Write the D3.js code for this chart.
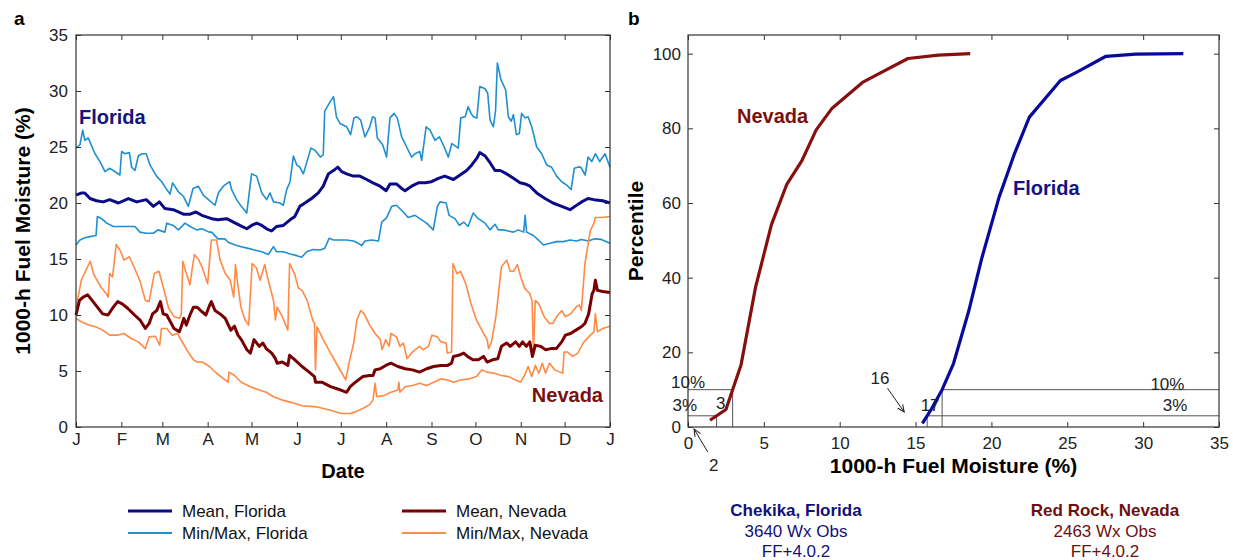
<!DOCTYPE html>
<html>
<head>
<meta charset="utf-8">
<script src="https://cdn.jsdelivr.net/npm/d3@7"></script>
<style>
  html, body { margin: 0; padding: 0; background: #fff; }
  svg { display: block; font-family: "Liberation Sans", Arial, sans-serif; }
</style>
</head>
<body>
<svg id="fig" width="1233" height="560"></svg>
<script>
// ---------- Panel a: daily 1000-h fuel moisture through the year ----------
const monthTicks = [0, 31, 59, 90, 120, 151, 181, 212, 243, 273, 304, 334, 365];
const monthLabels = ["J", "F", "M", "A", "M", "J", "J", "A", "S", "O", "N", "D", "J"];
const moistureTicks = [0, 5, 10, 15, 20, 25, 30, 35];

// [day of year, fuel moisture %]
const floridaMax = [[0,24.9],[2.7,25.2],[4.6,26.5],[6,25.6],[8.4,25.8],[10,25.3],[13,24.4],[16.4,23.7],[19.8,22.8],[22.8,23.1],[25.5,22.9],[30,22.5],[31.2,24.6],[33.5,24.4],[36.5,24.5],[38,23.2],[40.3,22.9],[42.6,24.2],[45,24.4],[48,24.4],[50.6,23.4],[55,22.4],[58.6,21.9],[62,21.2],[64.3,20.8],[66,21.8],[70,21.0],[73.4,20.6],[76.8,19.7],[80,21.3],[83.6,21.5],[87,20.7],[90.5,20.3],[95,19.8],[97.3,20.9],[100.7,21.5],[105,21.9],[106.4,21.2],[109.8,20.3],[113,19.7],[116.7,19.1],[120,22.6],[123.5,22.4],[127,20.9],[130.3,20.3],[132.6,20.9],[135,20.1],[139.4,20.0],[141.7,19.8],[144,21.2],[146.3,21.9],[148.6,24.2],[150.9,23.4],[153,23.2],[155.4,22.6],[160.6,24.9],[163.4,24.7],[167,24.1],[169,24.3],[170,28.2],[173.6,29.0],[176,29.5],[178,27.7],[180.4,27.1],[185,26.8],[187.7,26.1],[190,27.6],[192,27.7],[194.6,27.4],[197.5,25.9],[200.5,26.7],[202.8,27.7],[204.4,27.6],[206,25.8],[209.6,25.2],[212.3,24.1],[214.6,27.6],[217.4,28.0],[219.6,27.6],[222.6,25.9],[226,25.0],[229.4,24.1],[231.7,24.4],[235,24.6],[236.3,23.8],[239.3,26.8],[242,26.5],[245.4,25.6],[248.4,25.9],[251,25.2],[254.5,24.1],[256.8,25.3],[261.3,24.9],[263,27.6],[266,27.7],[268,28.6],[270,28.0],[271.7,27.7],[274,27.6],[276,30.4],[279.6,30.2],[281.4,29.8],[283,27.4],[285.3,26.8],[286.8,28.3],[288,32.5],[290.5,31.0],[293.7,30.1],[295.5,27.7],[297.5,27.3],[299,27.9],[301,26.1],[303,26.2],[304.6,28.0],[307,27.6],[309,27.7],[311.5,26.8],[314.9,25.0],[318.3,24.4],[321.7,23.4],[325,23.2],[328.5,22.4],[332,21.9],[335.4,21.6],[338.4,21.2],[340.6,23.1],[343,23.2],[345,23.2],[348,22.5],[350,24.1],[352.5,23.7],[355,24.4],[358,23.7],[361.6,24.4],[365,23.2]];

const floridaMean = [[0,20.7],[3.9,20.9],[6,20.9],[9.6,20.4],[14,20.2],[18.7,20.1],[23,20.3],[29,20.0],[35.8,20.4],[41.5,20.1],[48,20.3],[52.9,19.7],[57,20.1],[60.8,19.5],[66.5,19.4],[73.4,19.0],[78,19.0],[82,19.2],[86,18.9],[92.7,18.6],[97,18.5],[103,18.6],[107.6,18.3],[112,18.0],[116.7,17.7],[120,18.0],[123.5,18.2],[127,18.0],[130.3,17.7],[133.7,17.5],[137,17.9],[141.7,18.0],[146.3,18.5],[149.6,18.8],[153,19.7],[156.5,20.0],[161,20.4],[165.6,20.9],[169,21.5],[172.5,22.6],[177,23.0],[179,23.2],[181.6,22.8],[185,22.6],[189.6,22.4],[194,22.4],[198.7,22.1],[203,21.8],[207.8,21.5],[212,21.1],[214.6,21.7],[219,21.7],[222.6,21.3],[224.9,21.1],[229.4,21.5],[234,21.8],[238.6,21.8],[243,21.9],[247.7,22.2],[252,22.4],[258,22.1],[262.5,22.5],[267,22.9],[270.5,23.4],[274,24.0],[276,24.5],[279.6,24.2],[283,23.6],[286.4,22.9],[290,22.9],[294.4,22.6],[299,22.2],[303.5,21.8],[307,21.7],[310.3,21.5],[314.9,20.9],[320.6,20.4],[326,20.0],[332,19.7],[337.7,19.4],[341,19.7],[345.6,20.1],[350,20.4],[354,20.3],[360,20.2],[365,20.0]];

const floridaMin = [[0,16.25],[2.7,16.7],[6,16.9],[9.6,17.0],[13.7,17.1],[14.6,18.8],[17.5,18.6],[21,18.2],[25.5,17.9],[30,17.9],[35.8,17.9],[40.3,17.9],[43.7,17.4],[48,17.3],[52.9,17.3],[56,17.6],[60.8,17.4],[62,18.2],[66.5,18.0],[70,17.6],[74.5,18.2],[78,17.9],[82.5,17.6],[86,17.7],[91,17.4],[92.7,17.4],[97,16.8],[101.8,16.8],[104,16.5],[108.7,16.25],[113,16.1],[117.7,15.95],[122,15.8],[127,15.65],[131.5,15.4],[135,16.1],[137,15.65],[141.7,15.65],[146.3,15.45],[151,15.3],[154.2,15.15],[157.7,15.65],[162,15.85],[167,15.8],[170,15.95],[173,16.85],[176,16.7],[179,16.7],[185,16.7],[189.6,16.6],[193,16.4],[195.3,16.2],[197.5,16.6],[202,16.7],[206.7,16.6],[209,18.3],[212.3,18.7],[215.8,19.7],[219,19.8],[223.7,19.2],[227,18.7],[231.7,18.9],[235,18.6],[239.7,18.2],[244.2,17.6],[247,19.7],[248.8,20.1],[253,20.0],[255,18.9],[259,18.6],[262,18.0],[265,18.3],[268,17.9],[271.5,19.1],[275,18.6],[279.6,18.2],[283,17.6],[286.4,18.1],[288.7,17.6],[292,17.6],[295.5,17.5],[299,17.4],[302.3,17.6],[306,17.4],[307,18.9],[308,17.4],[312.6,17.1],[316,16.7],[319.5,16.25],[324,16.4],[328.5,16.55],[333,16.55],[337.7,16.7],[342,16.6],[345.6,16.75],[350,16.6],[354.7,16.8],[359,16.75],[365,16.4]];

const nevadaMax = [[0,10.6],[3.6,13.1],[9.7,14.8],[12.2,13.6],[17,12.5],[20.7,11.9],[22,11.6],[23,13.7],[25,13.4],[27.5,16.3],[30,15.8],[32.8,14.9],[36.5,15.2],[40,14.2],[43.8,13.0],[47.4,11.3],[50,11.2],[53.5,13.7],[56.7,13.9],[59.6,12.5],[63.3,10.6],[67,9.85],[70.6,9.7],[72,10.1],[73,14.8],[75.4,13.7],[77.9,12.7],[79.6,14.3],[81,15.4],[84,14.9],[86.4,14.2],[90,12.8],[92.5,16.7],[96,16.7],[98.5,14.9],[102,13.7],[105.4,13.1],[107.8,11.6],[109,14.5],[110.2,13.1],[112.7,10.7],[115.6,9.55],[118,9.1],[120.4,14.6],[123.4,14.2],[125.8,13.1],[129,14.5],[131.4,13.1],[135,11.3],[136.3,9.55],[137.5,10.7],[141,9.85],[144.8,8.65],[146,14.6],[149.6,13.6],[152,12.4],[154.5,12.2],[158,11.3],[161.8,9.55],[163,9.25],[163.7,5.1],[164.7,8.95],[169,7.8],[174,6.6],[180,5.2],[184.4,4.2],[186.6,5.7],[189.8,7.5],[192,9.55],[194.6,10.4],[197,10.1],[200.7,9.1],[204.4,8.35],[208,7.8],[209.2,6.9],[211.7,7.8],[214,7.2],[215.3,8.35],[219,8.05],[221.4,7.2],[223.8,7.5],[226.3,6.1],[230,6.7],[234.8,7.2],[237.2,6.9],[240.9,7.2],[243.3,8.2],[247,8.05],[249.4,7.6],[253,7.5],[253.8,6.6],[256.7,6.7],[257.7,14.6],[260.3,13.7],[262.8,13.9],[266.4,12.8],[270,11.0],[273.7,9.55],[278.6,8.35],[281,7.8],[282,7.0],[284,7.6],[287,9.85],[290.8,14.3],[294.4,14.9],[296.8,13.9],[299,13.9],[301.7,14.5],[304,13.4],[306.6,12.4],[310.2,11.9],[311.7,11.3],[312.7,6.6],[313.9,11.3],[316.3,11.0],[320,9.85],[323.6,9.25],[326,9.25],[328.5,9.85],[332,10.4],[334.5,9.85],[338,10.1],[341.7,10.7],[344,10.9],[345.4,10.4],[347.9,14.6],[351.5,17.5],[354,18.2],[355,18.7],[359,18.7],[365,18.8]];

const nevadaMean = [[0,10.0],[2.4,11.3],[4.9,11.6],[8,11.8],[11,11.3],[14.6,10.7],[18.2,10.1],[21.9,10.0],[25.5,10.7],[28.5,11.2],[31.6,11.0],[35.3,10.6],[40,10.0],[43.8,9.55],[47.4,8.8],[50,9.25],[52.3,10.1],[55.2,10.4],[57.7,11.2],[59.6,10.1],[62,10.0],[64.5,9.4],[67,8.8],[70.6,8.5],[72,9.0],[73.7,9.7],[75.4,9.1],[77.9,10.0],[80.3,10.7],[82.7,10.7],[85.2,10.4],[88.8,10.0],[90.8,10.7],[92.5,11.2],[95,10.4],[98.5,10.1],[102,9.7],[105.8,8.65],[108.3,9.0],[110.7,8.2],[113,7.8],[116.8,6.9],[119.2,6.6],[121.7,7.8],[125.3,7.2],[127.7,7.5],[130,7.0],[133.8,6.6],[136.3,6.1],[137.5,5.7],[141,5.8],[144.8,5.5],[146,6.4],[149.6,6.0],[154.5,5.4],[159.4,4.9],[163,4.5],[163.7,4.0],[168,4.0],[174,3.6],[181,3.3],[185,3.1],[187.4,3.6],[191,4.0],[196,4.5],[200.7,4.6],[203,4.6],[204.4,5.1],[208,5.2],[211.7,5.5],[215.3,5.7],[220,5.4],[225,5.2],[230,5.1],[234.8,4.9],[239.7,5.2],[244.5,5.4],[249.4,5.5],[254,5.5],[256.7,5.7],[258,6.3],[261.6,6.4],[265,6.6],[267.6,6.3],[271.3,6.0],[275,6.0],[278.6,6.3],[281,5.8],[284.7,6.0],[288.3,6.1],[290.8,7.2],[294.4,7.5],[296.8,7.2],[300.5,7.6],[303,7.2],[305.3,7.6],[307.8,7.2],[310.2,7.6],[312,6.3],[313.9,7.3],[317.5,7.2],[321,6.9],[324.7,7.0],[328.3,7.0],[332,7.6],[334.5,8.2],[338,8.35],[341.7,8.65],[345.4,8.95],[347.9,9.25],[350.4,10.1],[352.8,11.9],[354,12.2],[355,13.1],[356.4,12.2],[360,12.1],[365,12.0]];

const nevadaMin = [[0,9.7],[3.6,9.4],[8.5,9.1],[13.4,8.95],[18.2,8.65],[23,8.2],[28,8.2],[32.8,8.35],[37.7,7.9],[42.6,7.6],[47.4,7.0],[50,8.05],[54.3,8.1],[57.2,7.3],[58.4,8.8],[62,8.8],[65.7,8.2],[69.3,8.35],[73,7.5],[76.6,6.7],[80.3,6.0],[82.7,5.8],[86.4,5.8],[91.2,5.4],[96,4.8],[101,4.3],[103.9,4.0],[104.6,4.9],[108.3,4.6],[113,4.0],[119.2,3.6],[125.3,3.3],[130,3.1],[135,2.7],[141,2.4],[147.2,2.2],[154.5,1.9],[164.2,1.8],[174,1.5],[181.3,1.2],[187.4,1.2],[191,1.35],[196,1.65],[200.7,2.0],[203,2.4],[204.4,3.9],[205.6,2.7],[210.4,2.8],[215.3,3.1],[220,3.3],[220.7,4.0],[221.4,3.1],[225,3.6],[230,3.7],[234.8,3.9],[239.7,3.7],[244.5,4.0],[249.4,4.3],[254,4.2],[258,4.0],[262.8,4.2],[269,4.3],[273.7,4.5],[277.4,5.1],[281,4.9],[286,4.8],[290.8,4.6],[295.6,4.5],[300.5,4.2],[304,4.0],[306.6,4.6],[309,5.4],[311.5,4.5],[314,5.5],[316.3,4.8],[318.7,5.7],[321,4.8],[323.6,5.7],[327.3,5.1],[330.9,4.9],[332.7,4.8],[333.6,6.7],[335.8,6.7],[339.4,6.3],[343,6.6],[346.6,7.5],[350.4,8.05],[354,8.5],[355,10.1],[356.4,8.5],[360,8.8],[365,9.0]];

// ---------- Panel b: percentile curves of 1000-h fuel moisture ----------
const pctTicks = [0, 20, 40, 60, 80, 100];
const fmTicks = [0, 5, 10, 15, 20, 25, 30, 35];
const nevadaCdfMoisture = [1.45, 2.5, 3.5, 4.45, 5.5, 6.5, 7.5, 8.45, 9.5, 11.5, 12.75, 14.5, 16.5, 18.6];
const nevadaCdfPct      = [1.8, 4.7, 16.7, 37.4, 54.2, 64.9, 71.3, 79.6, 85.4, 92.3, 95.0, 98.7, 99.6, 100];
const floridaCdfMoisture = [15.45, 16.0, 16.75, 17.5, 18.5, 19.35, 20.5, 21.5, 22.5, 24.55, 25.6, 27.55, 29.5, 32.65];
const floridaCdfPct      = [1.0, 4.5, 10.0, 17.0, 31.0, 45.0, 61.5, 73.0, 83.0, 92.8, 95.0, 99.3, 99.9, 100];
const thresholdPcts = [3, 10];

const stations = [
  { name: "Chekika, Florida", obs: "3640 Wx Obs", model: "FF+4.0.2", color: "#12127a" },
  { name: "Red Rock, Nevada", obs: "2463 Wx Obs", model: "FF+4.0.2", color: "#6e1010" }
];

const C = {
  flMean: "#0b0b86", flMinMax: "#1f8fcf",
  nvMean: "#780000", nvMinMax: "#ff8a45",
  flCurve: "#0a0a9a", nvCurve: "#861010",
  flText: "#14147f", nvText: "#781010",
  axis: "#333", guide: "#555"
};

const svg = d3.select("#fig");
const FONT = 17;

// ---------------- panel a ----------------
const A = { left: 76, right: 610, top: 35, bottom: 427 };
const xa = d3.scaleLinear().domain([0, 365]).range([A.left, A.right]);
const ya = d3.scaleLinear().domain([0, 35]).range([A.bottom, A.top]);
const ga = svg.append("g");

const lineA = d3.line().x(d => xa(d[0])).y(d => ya(d[1]));
const seriesA = [
  { data: floridaMax, color: C.flMinMax, w: 1.6 },
  { data: floridaMin, color: C.flMinMax, w: 1.6 },
  { data: nevadaMax, color: C.nvMinMax, w: 1.6 },
  { data: nevadaMin, color: C.nvMinMax, w: 1.6 },
  { data: floridaMean, color: C.flMean, w: 3 },
  { data: nevadaMean, color: C.nvMean, w: 3 }
];
ga.selectAll("path.series").data(seriesA).join("path")
  .attr("class", "series")
  .attr("d", d => lineA(d.data))
  .attr("fill", "none").attr("stroke", d => d.color)
  .attr("stroke-width", d => d.w).attr("stroke-linejoin", "round");

function frame(g, box) {
  g.append("rect").attr("x", box.left).attr("y", box.top)
    .attr("width", box.right - box.left).attr("height", box.bottom - box.top)
    .attr("fill", "none").attr("stroke", C.axis).attr("stroke-width", 1.2);
}
function styleAxis(sel) {
  sel.select(".domain").remove();
  sel.selectAll(".tick line").attr("stroke", C.axis);
  sel.selectAll(".tick text").attr("font-size", FONT).attr("fill", "#222")
     .attr("font-family", "Liberation Sans, Arial, sans-serif");
}
frame(ga, A);

ga.append("g").attr("transform", `translate(0,${A.bottom})`)
  .call(d3.axisBottom(xa).tickValues(monthTicks).tickSizeInner(-5).tickSizeOuter(0).tickPadding(6)
        .tickFormat((d, i) => monthLabels[i]))
  .call(styleAxis);
ga.append("g").attr("transform", `translate(0,${A.top})`)
  .call(d3.axisTop(xa).tickValues(monthTicks).tickSizeInner(-5).tickSizeOuter(0).tickFormat(""))
  .call(styleAxis);
ga.append("g").attr("transform", `translate(${A.left},0)`)
  .call(d3.axisLeft(ya).tickValues(moistureTicks).tickSizeInner(-5).tickSizeOuter(0).tickPadding(8))
  .call(styleAxis);
ga.append("g").attr("transform", `translate(${A.right},0)`)
  .call(d3.axisRight(ya).tickValues(moistureTicks).tickSizeInner(-5).tickSizeOuter(0).tickFormat(""))
  .call(styleAxis);

ga.append("text").attr("x", 79).attr("y", 124).text("Florida")
  .attr("font-size", 20).attr("font-weight", "bold").attr("fill", C.flText);
ga.append("text").attr("x", 603).attr("y", 402).attr("text-anchor", "end").text("Nevada")
  .attr("font-size", 20).attr("font-weight", "bold").attr("fill", C.nvText);

ga.append("text").attr("x", (A.left + A.right) / 2).attr("y", 478).attr("text-anchor", "middle")
  .text("Date").attr("font-size", 20).attr("font-weight", "bold");
ga.append("text").attr("transform", `translate(30,${(A.top + A.bottom) / 2}) rotate(-90)`)
  .attr("text-anchor", "middle").text("1000-h Fuel Moisture (%)")
  .attr("font-size", 21).attr("font-weight", "bold");
svg.append("text").attr("x", 14).attr("y", 25).text("a").attr("font-size", 19).attr("font-weight", "bold");

// legend
const legendItems = [
  { label: "Mean, Florida", color: C.flMean, w: 3, x: 128, y: 511 },
  { label: "Min/Max, Florida", color: C.flMinMax, w: 2, x: 128, y: 533 },
  { label: "Mean, Nevada", color: C.nvMean, w: 3, x: 402, y: 511 },
  { label: "Min/Max, Nevada", color: C.nvMinMax, w: 2, x: 402, y: 533 }
];
const lg = svg.append("g").selectAll("g").data(legendItems).join("g");
lg.append("line").attr("x1", d => d.x).attr("x2", d => d.x + 44)
  .attr("y1", d => d.y).attr("y2", d => d.y)
  .attr("stroke", d => d.color).attr("stroke-width", d => d.w);
lg.append("text").attr("x", d => d.x + 54).attr("y", d => d.y).attr("dy", "0.35em")
  .text(d => d.label).attr("font-size", FONT).attr("fill", "#111");

// ---------------- panel b ----------------
const B = { left: 688, right: 1219, top: 35, bottom: 427 };
const xb = d3.scaleLinear().domain([0, 35]).range([B.left, B.right]);
const yb = d3.scaleLinear().domain([0, 105]).range([B.bottom, B.top]);
const gb = svg.append("g");

// moisture at which a piecewise-linear percentile curve reaches p
function moistureAt(ms, ps, p) {
  for (let i = 1; i < ps.length; i++) {
    if (ps[i] >= p) {
      const t = (p - ps[i - 1]) / (ps[i] - ps[i - 1]);
      return ms[i - 1] + t * (ms[i] - ms[i - 1]);
    }
  }
  return ms[ms.length - 1];
}
const nv = thresholdPcts.map(p => ({ p, m: moistureAt(nevadaCdfMoisture, nevadaCdfPct, p) }));
const fl = thresholdPcts.map(p => ({ p, m: moistureAt(floridaCdfMoisture, floridaCdfPct, p) }));

const guide = (x1, y1, x2, y2) => gb.append("line")
  .attr("x1", xb(x1)).attr("y1", yb(y1)).attr("x2", xb(x2)).attr("y2", yb(y2))
  .attr("stroke", C.guide).attr("stroke-width", 1);
nv.forEach(d => { guide(0, d.p, d.m, d.p); guide(d.m, d.p, d.m, 0); });
fl.forEach(d => { guide(d.m, d.p, 35, d.p); guide(d.m, d.p, d.m, 0); });

const lineB = d3.line().x(d => xb(d[0])).y(d => yb(d[1]));
gb.append("path").attr("d", lineB(d3.zip(nevadaCdfMoisture, nevadaCdfPct)))
  .attr("fill", "none").attr("stroke", C.nvCurve).attr("stroke-width", 3.2).attr("stroke-linejoin", "round");
gb.append("path").attr("d", lineB(d3.zip(floridaCdfMoisture, floridaCdfPct)))
  .attr("fill", "none").attr("stroke", C.flCurve).attr("stroke-width", 3.2).attr("stroke-linejoin", "round");

frame(gb, B);
gb.append("g").attr("transform", `translate(0,${B.bottom})`)
  .call(d3.axisBottom(xb).tickValues(fmTicks).tickSizeInner(-5).tickSizeOuter(0).tickPadding(10))
  .call(styleAxis);
gb.append("g").attr("transform", `translate(0,${B.top})`)
  .call(d3.axisTop(xb).tickValues(fmTicks).tickSizeInner(-5).tickSizeOuter(0).tickFormat(""))
  .call(styleAxis);
gb.append("g").attr("transform", `translate(${B.left},0)`)
  .call(d3.axisLeft(yb).tickValues(pctTicks).tickSizeInner(-5).tickSizeOuter(0).tickPadding(7))
  .call(styleAxis);
gb.append("g").attr("transform", `translate(${B.right},0)`)
  .call(d3.axisRight(yb).tickValues(pctTicks).tickSizeInner(-5).tickSizeOuter(0).tickFormat(""))
  .call(styleAxis);

// threshold annotations
const note = (x, y, t, anchor) => gb.append("text").attr("x", x).attr("y", y).attr("dy", "0.35em")
  .attr("text-anchor", anchor || "middle").text(t).attr("font-size", FONT).attr("fill", "#222");
const nv3 = nv.find(d => d.p === 3), nv10 = nv.find(d => d.p === 10);
const fl3 = fl.find(d => d.p === 3), fl10 = fl.find(d => d.p === 10);
note(xb(0) + 17, yb(10) - 8, "10%", "end");
note(xb(0) + 9, yb(3) - 11, "3%", "end");
note(xb(nv10.m) - 12, yb(6.5), d3.format(".0f")(nv10.m));
note(xb(fl10.m) - 12, yb(6), d3.format(".0f")(fl10.m));
note(xb(12.65), yb(13.2), d3.format(".0f")(fl3.m));
note(xb(1.7), 465, d3.format(".0f")(nv3.m));
note(xb(31.6), yb(11.6), "10%");
note(xb(32.1), yb(5.8), "3%");

svg.append("defs").append("marker").attr("id", "arrowhead")
  .attr("viewBox", "0 0 10 10").attr("refX", 9).attr("refY", 5)
  .attr("markerWidth", 8).attr("markerHeight", 8).attr("orient", "auto")
  .append("path").attr("d", "M0,1 L9,5 L0,9").attr("fill", "none")
  .attr("stroke", "#222").attr("stroke-width", 1.3);
gb.append("line").attr("x1", xb(13.15)).attr("y1", yb(10.4)).attr("x2", xb(14.25)).attr("y2", yb(4.0))
  .attr("stroke", "#222").attr("stroke-width", 1).attr("marker-end", "url(#arrowhead)");
gb.append("line").attr("x1", xb(1.3)).attr("y1", 452).attr("x2", xb(0.4)).attr("y2", 429)
  .attr("stroke", "#222").attr("stroke-width", 1).attr("marker-end", "url(#arrowhead)");

gb.append("text").attr("x", 737).attr("y", 123).text("Nevada")
  .attr("font-size", 20).attr("font-weight", "bold").attr("fill", C.nvText);
gb.append("text").attr("x", 1013).attr("y", 195).text("Florida")
  .attr("font-size", 20).attr("font-weight", "bold").attr("fill", C.flText);

gb.append("text").attr("x", (B.left + B.right) / 2).attr("y", 473).attr("text-anchor", "middle")
  .text("1000-h Fuel Moisture (%)").attr("font-size", 21).attr("font-weight", "bold");
gb.append("text").attr("transform", `translate(643,${(B.top + B.bottom) / 2}) rotate(-90)`)
  .attr("text-anchor", "middle").text("Percentile").attr("font-size", 21).attr("font-weight", "bold");
svg.append("text").attr("x", 628).attr("y", 25).text("b").attr("font-size", 19).attr("font-weight", "bold");

// station captions
const st = svg.append("g").selectAll("g").data(stations).join("g")
  .attr("transform", (d, i) => `translate(${i === 0 ? 796 : 1105},0)`)
  .attr("fill", d => d.color).attr("text-anchor", "middle").attr("font-size", FONT);
st.append("text").attr("y", 516).text(d => d.name).attr("font-weight", "bold");
st.append("text").attr("y", 537).text(d => d.obs);
st.append("text").attr("y", 557).text(d => d.model);
</script>
</body>
</html>
